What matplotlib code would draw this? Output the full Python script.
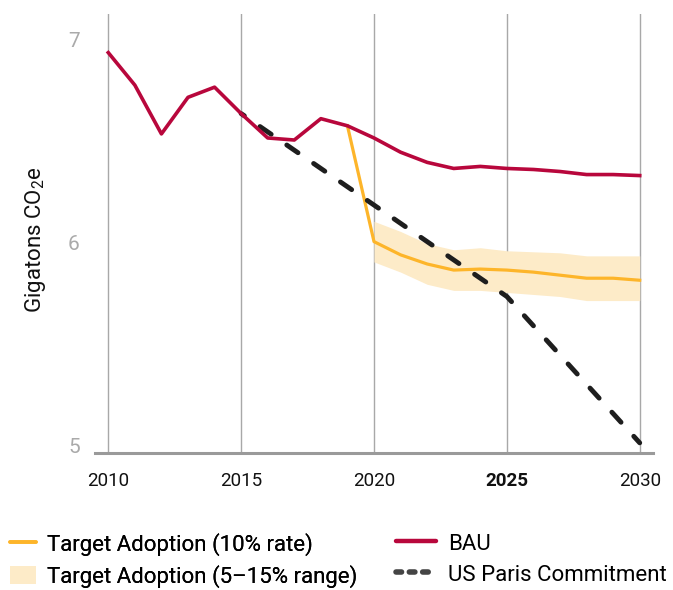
import matplotlib
matplotlib.use("Agg")
import matplotlib.pyplot as plt
from matplotlib.lines import Line2D
from matplotlib.patches import Patch

plt.rcParams['font.family'] = ['Roboto', 'DejaVu Sans']
plt.rcParams['mathtext.default'] = 'regular'

# data
bau_years = list(range(2010, 2031))
bau = [6.97, 6.81, 6.57, 6.75, 6.80, 6.67, 6.55, 6.54, 6.645, 6.61, 6.55,
       6.48, 6.43, 6.40, 6.41, 6.40, 6.395, 6.385, 6.37, 6.37, 6.365]

target_years = list(range(2019, 2031))
target = [6.61, 6.04, 5.975, 5.93, 5.90, 5.905, 5.90, 5.89, 5.875, 5.86, 5.86, 5.85]

band_years = list(range(2020, 2031))
band_hi = [6.14, 6.09, 6.03, 6.00, 6.01, 5.995, 5.99, 5.985, 5.97, 5.97, 5.97]
band_lo = [5.94, 5.89, 5.83, 5.80, 5.80, 5.79, 5.78, 5.77, 5.75, 5.75, 5.75]

paris_years = [2015, 2020, 2025, 2030]
paris = [6.67, 6.22, 5.77, 5.05]

year_ticks = [2010, 2015, 2020, 2025, 2030]
value_ticks = [5, 6, 7]

RED = '#B8073C'
YELLOW = '#FDB52A'
BAND = '#FDEBC8'
DARK = '#1E1E1E'

W, H = 673, 590
fig = plt.figure(figsize=(W / 100, H / 100), dpi=100)
ax = fig.add_axes([95 / W, 1 - 453 / H, (653 - 95) / W, (453 - 14) / H])

ax.fill_between(band_years, band_lo, band_hi, color=BAND, lw=0, zorder=1)
ax.plot(target_years, target, color=YELLOW, lw=2.3, zorder=2)
ax.plot(paris_years, paris, color=DARK, lw=3.5, ls=(2.0, (2.8, 3.9)),
        dash_capstyle='round', zorder=3)
ax.plot(bau_years, bau, color=RED, lw=2.6, zorder=4)

ax.set_xlim(2009.5, 2030.5)
ax.set_ylim(5, 7.16)

ax.set_xticks(year_ticks)
ax.set_xticklabels([str(y) for y in year_ticks], fontsize=13.5, color='#111111')
for lbl in ax.get_xticklabels():
    if lbl.get_text() == '2025':
        lbl.set_fontweight('bold')
ax.set_yticks(value_ticks)
ax.set_yticklabels([str(v) for v in value_ticks], fontsize=15, color='#AAAAAA',
                   va='baseline')
ax.tick_params(axis='x', length=0, pad=14)
ax.tick_params(axis='y', length=0, pad=11)
ax.xaxis.grid(True, color='#A8A8A8', lw=1)
ax.set_axisbelow(True)

for s in ['top', 'right', 'left']:
    ax.spines[s].set_visible(False)
ax.spines['bottom'].set_color('#9A9A9A')
ax.spines['bottom'].set_linewidth(2.2)

fig.text(36 / W, 1 - 240 / H, 'Gigatons CO$_2$e', rotation=90,
         ha='center', va='center', fontsize=16, color='#111111')

# legend, two columns
h1 = [Line2D([], [], color=YELLOW, lw=2.6, solid_capstyle='round'),
      Patch(facecolor=BAND, edgecolor='none')]
l1 = ['Target Adoption (10% rate)', 'Target Adoption (5\u201315% range)']
h2 = [Line2D([], [], color=RED, lw=3.2, solid_capstyle='round'),
      Line2D([], [], color='#444444', lw=4, ls=(0, (1.0, 1.4)), dash_capstyle='round')]
l2 = ['BAU', 'US Paris Commitment']

leg1 = fig.legend(h1, l1, loc='upper left', bbox_to_anchor=(10 / W, 1 - 533 / H),
                  frameon=False, fontsize=16, handlelength=1.15, handletextpad=0.5,
                  handleheight=0.9, labelspacing=0.4, borderpad=0, borderaxespad=0)
fig.legend(h2, l2, loc='upper left', bbox_to_anchor=(396 / W, 1 - 533 / H),
           frameon=False, fontsize=16, handlelength=1.8, handletextpad=0.55,
           handleheight=0.9, labelspacing=0.4, borderpad=0, borderaxespad=0)
fig.add_artist(leg1)

fig.savefig('out.png', dpi=100)
